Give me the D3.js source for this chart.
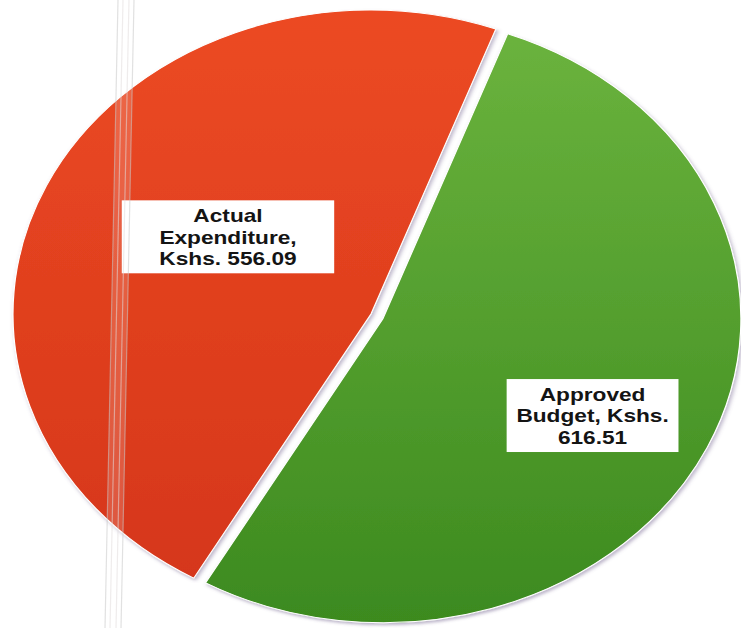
<!DOCTYPE html>
<html>
<head>
<meta charset="utf-8">
<script src="https://cdn.jsdelivr.net/npm/d3@7"></script>
<style>
  html, body { margin: 0; padding: 0; background: #ffffff; }
  svg { display: block; }
</style>
</head>
<body>
<svg id="chart" width="741" height="628"></svg>
<script>
// ---- data ----
const categories = ["Approved Budget", "Actual Expenditure"];
const values = [616.51, 556.09];
const labelLines = [
  ["Approved", "Budget, Kshs.", "616.51"],
  ["Actual", "Expenditure,", "Kshs. 556.09"]
];
const colorTop = ["#6cb43e", "#ec4a23"];
const colorBottom = ["#3c8a1f", "#d4351a"];

// ---- layout ----
const W = 741, H = 628;
const R = 300;
const cx = 371, cy = 314;
const sx = 358 / R, sy = 304 / R;          // photo perspective: ellipse
const startDeg = 20.4;
const explode = [11, 0];
const labelRadius = [200, 142];
const labelShiftDeg = [3.5, 7.4];
const boxW = [144, 178];
const boxH = 72;
const lineGap = 21.2;

const svg = d3.select("#chart");
const defs = svg.append("defs");

categories.forEach((c, i) => {
  const g = defs.append("linearGradient")
    .attr("id", "grad" + i)
    .attr("gradientUnits", "userSpaceOnUse")
    .attr("x1", 0).attr("y1", -R).attr("x2", 0).attr("y2", R);
  g.append("stop").attr("offset", "0%").attr("stop-color", colorTop[i]);
  g.append("stop").attr("offset", "100%").attr("stop-color", colorBottom[i]);
});

const shadow = defs.append("filter").attr("id", "shadow")
  .attr("x", "-10%").attr("y", "-10%").attr("width", "120%").attr("height", "120%");
shadow.append("feDropShadow")
  .attr("dx", 1.5).attr("dy", 2).attr("stdDeviation", 1.8)
  .attr("flood-color", "#6a5a8a").attr("flood-opacity", 0.45);

const pie = d3.pie()
  .sort(null)
  .value(d => d)
  .startAngle(startDeg * Math.PI / 180)
  .endAngle(startDeg * Math.PI / 180 + 2 * Math.PI);

const arcs = pie(values);
const arc = d3.arc().innerRadius(0).outerRadius(R);

const root = svg.append("g")
  .attr("transform", `translate(${cx},${cy}) scale(${sx},${sy})`);

const slices = root.selectAll("g.slice")
  .data(arcs)
  .join("g")
  .attr("class", "slice")
  .attr("transform", (d, i) => {
    const mid = (d.startAngle + d.endAngle) / 2;
    return `translate(${Math.sin(mid) * explode[i]},${-Math.cos(mid) * explode[i]})`;
  });

slices.append("path")
  .attr("d", arc)
  .attr("fill", (d, i) => `url(#grad${i})`)
  .attr("stroke", "#ffffff")
  .attr("stroke-width", 1)
  .attr("filter", "url(#shadow)");

// labels
slices.each(function(d, i) {
  const mid = (d.startAngle + d.endAngle) / 2 + labelShiftDeg[i] * Math.PI / 180;
  const lx = Math.sin(mid) * labelRadius[i];
  const ly = -Math.cos(mid) * labelRadius[i];
  const g = d3.select(this).append("g").attr("transform", `translate(${lx},${ly})`);
  g.append("rect")
    .attr("x", -boxW[i] / 2).attr("y", -boxH / 2)
    .attr("width", boxW[i]).attr("height", boxH)
    .attr("fill", "#ffffff");
  g.selectAll("text")
    .data(labelLines[i])
    .join("text")
    .attr("x", 0)
    .attr("y", (t, k) => (k - 1) * lineGap)
    .attr("dy", "0.36em")
    .attr("text-anchor", "middle")
    .attr("font-family", "'Liberation Sans', Arial, sans-serif")
    .attr("font-weight", "bold")
    .attr("font-size", 19)
    .attr("fill", "#141414")
    .text(t => t);
});

// faint vertical strip (photographic artifact in the reference)
const strip = svg.append("g").attr("pointer-events", "none");
strip.append("path")
  .attr("d", "M118,0 L134,0 L121,628 L105,628 Z")
  .attr("fill", "#ffffff").attr("fill-opacity", 0.16);
[[118, 105], [123, 110], [129, 116], [134, 121]].forEach(([a, b], k) => {
  strip.append("line")
    .attr("x1", a).attr("y1", 0).attr("x2", b).attr("y2", 628)
    .attr("stroke", k % 3 === 0 ? "#c8c8c8" : "#e2dcdc")
    .attr("stroke-opacity", 0.55)
    .attr("stroke-width", 1.2);
});
</script>
</body>
</html>
